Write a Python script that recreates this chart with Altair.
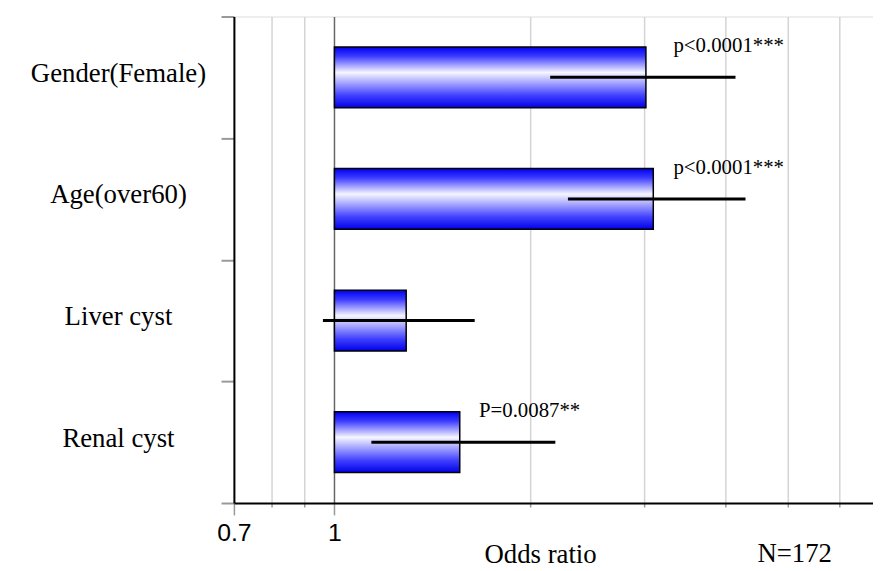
import altair as alt
import pandas as pd

categories = ["Gender(Female)", "Age(over60)", "Liver cyst", "Renal cyst"]
odds_ratio = [3.02, 3.10, 1.29, 1.56]
ci_low = [2.15, 2.29, 0.96, 1.14]
ci_high = [4.15, 4.30, 1.645, 2.19]
p_text = ["p<0.0001***", "p<0.0001***", "", "P=0.0087**"]
p_text_x = [3.33, 3.33, 3.33, 1.67]
baseline = [1, 1, 1, 1]
x_grid_values = [0.7, 0.8, 0.9, 1, 2, 3, 4, 5, 6]
x_domain = [0.7, 6.76]

df = pd.DataFrame({
    "cat": categories,
    "or": odds_ratio,
    "lo": ci_low,
    "hi": ci_high,
    "base": baseline,
    "ptxt": p_text,
    "px": p_text_x,
})

serif = "Liberation Serif"
sans = "Liberation Sans"

xscale = alt.Scale(type="log", domain=x_domain, nice=False, clamp=False)
yscale = alt.Scale(paddingInner=0, paddingOuter=0)

x_axis = alt.Axis(
    values=x_grid_values,
    labelExpr="(datum.value == 0.7 || datum.value == 1) ? datum.label : ''",
    labelFont=sans, labelFontSize=25, labelColor="black", labelPadding=6,
    labelFlush=False, labelOverlap=False,
    grid=True,
    gridColor=alt.condition("datum.value == 1", alt.value("#666666"), alt.value("#d4d4d4")),
    gridWidth=1.5,
    tickColor="#999999", tickWidth=1.5,
    tickSize=alt.condition("datum.value == 0.7 || datum.value == 1", alt.value(12), alt.value(4)),
    domainColor="black", domainWidth=2,
    title="Odds ratio", titleFont=serif, titleFontSize=27, titleFontWeight="normal",
    titleColor="black", titleX=309, titleY=52, titleBaseline="middle", titleAlign="center",
)

y_axis = alt.Axis(
    title=None,
    tickBand="extent",
    labelFont=serif, labelFontSize=27, labelColor="black",
    labelAlign="center", labelPadding=104, labelOffset=-4,
    tickColor="#999999", tickWidth=2, tickSize=13,
    domainColor="black", domainWidth=2,
    grid=False,
)

base = alt.Chart(df)

bars = base.mark_bar(
    height=alt.RelativeBandSize(0.5),
    fill=alt.Gradient(
        gradient="linear",
        stops=[
            alt.GradientStop(color="#0000f0", offset=0),
            alt.GradientStop(color="#3a3aff", offset=0.15),
            alt.GradientStop(color="#f6f6ff", offset=0.42),
            alt.GradientStop(color="#4040ff", offset=0.8),
            alt.GradientStop(color="#0000e8", offset=1),
        ],
        x1=0, x2=0, y1=0, y2=1,
    ),
    stroke="black", strokeWidth=1.5,
).encode(
    y=alt.Y("cat:N", sort=categories, scale=yscale, axis=y_axis),
    x=alt.X("base:Q", scale=xscale, axis=x_axis),
    x2="or:Q",
)

ci = base.mark_rule(color="black", strokeWidth=3).encode(
    y=alt.Y("cat:N", sort=categories),
    x=alt.X("lo:Q"),
    x2="hi:Q",
)

ptext = base.transform_filter("datum.ptxt != ''").mark_text(
    font=serif, fontSize=21, align="left", baseline="middle", color="black", dy=-1,
).encode(
    y=alt.Y("cat:N", sort=categories, bandPosition=0.25),
    x=alt.X("px:Q"),
    text="ptxt:N",
)

ntext = alt.Chart(pd.DataFrame({"t": ["N=172"]})).mark_text(
    font=serif, fontSize=27, align="center", baseline="middle", color="black",
).encode(
    x=alt.value(566), y=alt.value(543), text="t:N",
)

chart = alt.layer(bars, ci, ptext, ntext).properties(
    width=645, height=491,
    autosize=alt.AutoSizeParams(type="none"),
    padding={"left": 228, "top": 6, "right": 0, "bottom": 64},
).configure_view(stroke=None).configure(background="white")

chart.save("out.html", embed_options={"renderer": "svg", "actions": False})
